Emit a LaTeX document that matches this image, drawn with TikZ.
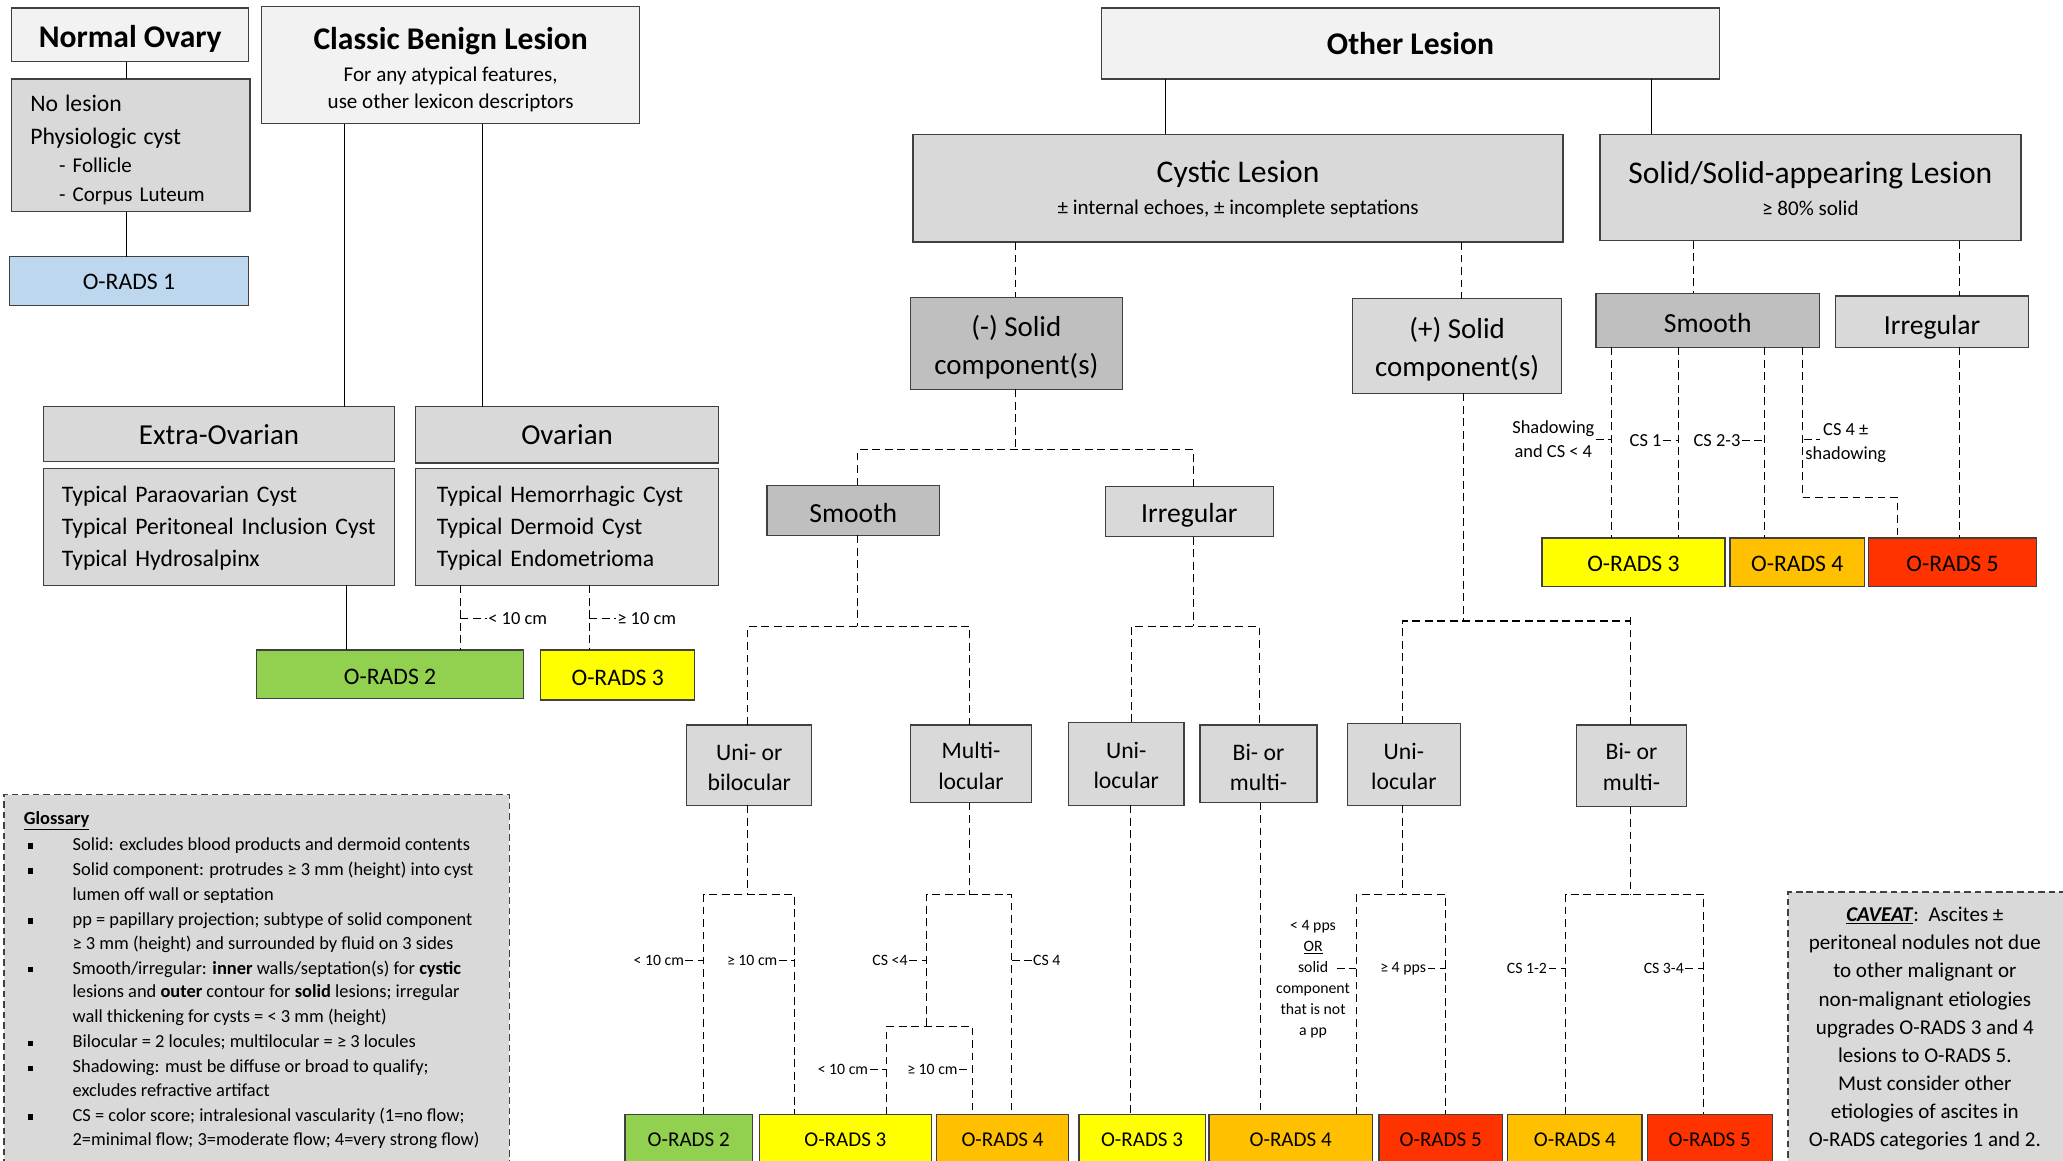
\documentclass[tikz,border=0pt]{standalone}
\usepackage{fontspec}
\setmainfont{Carlito}
\usetikzlibrary{calc}
\definecolor{bd}{HTML}{404040}
\definecolor{cA}{HTML}{F2F2F2}
\definecolor{cB}{HTML}{D9D9D9}
\definecolor{cC}{HTML}{BFBFBF}
\definecolor{cBlue}{HTML}{BDD7EE}
\definecolor{cGreen}{HTML}{92D050}
\definecolor{cYel}{HTML}{FFFF00}
\definecolor{cOra}{HTML}{FFC000}
\definecolor{cRed}{HTML}{FF3300}
% box: name, x1, y1, x2, y2, box style, text style, text
\newcommand\bx[8]{%
  \node[box,#6,minimum width={(#4)-(#2)},minimum height={(#5)-(#3)}] (#1)
    at ({((#2)+(#4))/2},{((#3)+(#5))/2}) {};
  \node[tx,#7] (#1t) at (#1.center) {#8};}
\newcommand\fs[2]{\fontsize{#1}{#2}\selectfont}
\newcommand\gbul{\makebox[34pt][l]{\rule[1.5pt]{4pt}{4pt}}}
\tikzset{
  box/.style={draw=bd, line width=1pt, inner sep=0pt, outer sep=0pt},
  tx/.style={inner sep=0pt, align=center},
  lt/.style={fill=cA}, md/.style={fill=cB}, dk/.style={fill=cC},
  gbx/.style={draw=bd, line width=0.9pt, dash pattern=on 5pt off 3pt, fill=cB},
  ln/.style={draw=black, line width=0.8pt},
  dsh/.style={draw=black, line width=0.8pt, dash pattern=on 6pt off 3.5pt},
  lbl/.style={font=\fs{14}{18}, inner sep=1pt, align=center},
  sml/.style={font=\fs{12}{16}, inner sep=1pt, align=center},
  gtxt/.style={font=\fs{14}{17}, inner sep=0pt, anchor=base west},
  t24b/.style={font=\fs{24}{29}\bfseries},
  t22/.style={font=\fs{22}{29}},
  t21/.style={font=\fs{21}{25}},
  t18/.style={font=\fs{18}{23}},
  t16/.style={font=\fs{16}{20}},
}
\begin{document}
\begin{tikzpicture}[x=1pt,y=-1pt]
\useasboundingbox (0,0) rectangle (1568,882);
% ---------- left: normal ovary ----------
\bx{normal}{9}{6}{189}{47}{lt}{t24b,yshift=-3pt}{Normal Ovary}
\bx{nolesion}{9}{60}{190}{161}{md}{text width=153pt,align=left,font=\fs{16}{22},yshift=-3.5pt}{{\fs{18}{22}No lesion}\\[3pt]{\fs{18}{22}Physiologic cyst}\\\hspace*{22pt}- Follicle\\\hspace*{22pt}- Corpus Luteum}
\bx{o1}{7}{195}{189}{232}{fill=cBlue}{t18,yshift=-1pt}{O-RADS 1}
\draw[ln] (normal.south -| 96,0) -- (nolesion.north -| 96,0);
\draw[ln] (nolesion.south -| 96,0) -- (o1.north -| 96,0);
% ---------- classic benign ----------
\bx{classic}{199}{5}{486}{94}{lt}{font=\fs{16}{21},yshift=-3.5pt}{{\fs{24}{29}\bfseries Classic Benign Lesion}\\[3pt]For any atypical features,\\use other lexicon descriptors}
\bx{extra}{33}{309}{300}{351}{md}{font=\fs{22}{26}}{Extra-Ovarian}
\bx{extralist}{33}{356}{300}{445}{md}{text width=239pt,align=left,font=\fs{18}{24},yshift=-1pt}{Typical Paraovarian Cyst\\Typical Peritoneal Inclusion Cyst\\Typical Hydrosalpinx}
\bx{ovarian}{316}{309}{546}{352}{md}{font=\fs{22}{26}}{Ovarian}
\bx{ovlist}{316}{356}{546}{445}{md}{text width=198pt,align=left,font=\fs{18}{24},yshift=-1pt}{Typical Hemorrhagic Cyst\\Typical Dermoid Cyst\\Typical Endometrioma}
\bx{o2a}{195}{494}{398}{531}{fill=cGreen}{t18,yshift=-2pt}{O-RADS 2}
\bx{o3a}{411}{494}{528}{532}{fill=cYel}{t18,yshift=-2pt}{O-RADS 3}
\draw[ln] (classic.south -| 262,0) -- (extra.north -| 262,0);
\draw[ln] (classic.south -| 367,0) -- (ovarian.north -| 367,0);
\draw[ln] (extralist.south -| 263,0) -- (o2a.north -| 263,0);
\draw[dsh] (ovlist.south -| 350,0) -- (o2a.north -| 350,0);
\draw[dsh] (ovlist.south -| 448,0) -- (o3a.north -| 448,0);
\node[lbl,anchor=west] (t1) at (370,470) {< 10 cm};
\draw[dsh] (t1.west -| 350,0) -- (t1.west);
\node[lbl,anchor=west] (t2) at (468,470) {≥ 10 cm};
\draw[dsh] (t2.west -| 448,0) -- (t2.west);
% ---------- other lesion ----------
\bx{other}{837}{6}{1307}{60}{lt}{t24b}{Other Lesion}
\bx{cystic}{694}{102}{1188}{184}{md}{font=\fs{16}{24},yshift=-1pt}{{\fs{24}{24}Cystic Lesion}\\± internal echoes, ± incomplete septations}
\bx{solidl}{1216}{102}{1536}{183}{md}{font=\fs{16}{24},yshift=-1pt}{{\fs{24}{24}Solid/Solid-appearing Lesion}\\≥ 80\% solid}
\draw[ln] (other.south -| 886,0) -- (cystic.north -| 886,0);
\draw[ln] (other.south -| 1255,0) -- (solidl.north -| 1255,0);
\bx{mneg}{692}{226}{853}{296}{dk}{t22,yshift=-3pt}{(-) Solid\\component(s)}
\bx{mpos}{1028}{227}{1187}{299}{md}{t22,yshift=-2.5pt}{(+) Solid\\component(s)}
\draw[dsh] (cystic.south -| 772,0) -- (mneg.north -| 772,0);
\draw[dsh] (cystic.south -| 1111,0) -- (mpos.north -| 1111,0);
% ---------- solid lesion branch ----------
\bx{smoothr}{1213}{223}{1383}{264}{dk}{t21,yshift=-2pt}{Smooth}
\bx{irrr}{1395}{225}{1542}{264}{md}{t21,yshift=-4pt}{Irregular}
\draw[dsh] (solidl.south -| 1287,0) -- (smoothr.north -| 1287,0);
\draw[dsh] (solidl.south -| 1489,0) -- (irrr.north -| 1489,0);
\bx{o3r}{1172}{409}{1311}{446}{fill=cYel}{t18,yshift=-1pt}{O-RADS 3}
\bx{o4r}{1315}{409}{1417}{446}{fill=cOra}{t18,yshift=-1pt}{O-RADS 4}
\bx{o5r}{1420}{409}{1548}{446}{fill=cRed}{t18,yshift=-1pt}{O-RADS 5}
\draw[dsh] (smoothr.south -| 1225,0) -- (o3r.north -| 1225,0);
\draw[dsh] (smoothr.south -| 1276,0) -- (o3r.north -| 1276,0);
\draw[dsh] (smoothr.south -| 1341,0) -- (o4r.north -| 1341,0);
\draw[dsh] (smoothr.south -| 1370,0) -- (1370,378) -| (o5r.north -| 1442,0);
\draw[dsh] (irrr.south -| 1489,0) -- (o5r.north -| 1489,0);
\node[lbl,anchor=east] (t3) at (1213,334) {Shadowing\\and CS < 4};
\draw[dsh] (t3.east) -- (t3.east -| 1225,0);
\node[lbl,anchor=east] (t4) at (1264,335) {CS 1};
\draw[dsh] (t4.east) -- (t4.east -| 1276,0);
\node[lbl,anchor=east] (t5) at (1324,335) {CS 2-3};
\draw[dsh] (t5.east) -- (t5.east -| 1341,0);
\node[lbl,anchor=west] (t6) at (1371,337) {CS 4 ±\\shadowing};
\draw[dsh] (t6.west |- 0,334) -- ++(12,0);
% ---------- (-) solid branch ----------
\bx{smoothm}{583}{369}{714}{407}{dk}{t21,yshift=-2pt}{Smooth}
\bx{irrm}{840}{370}{968}{408}{md}{t21,yshift=-3pt}{Irregular}
\draw[dsh] (mneg.south -| 772,0) -- (772,342);
\draw[dsh] (smoothm.north -| 652,0) |- (907,342) -- (irrm.north -| 907,0);
\bx{unibi}{522}{551}{617}{612}{md}{t18,yshift=-2pt}{Uni- or\\bilocular}
\bx{multi}{692}{551}{784}{610}{md}{t18,yshift=-1.5pt}{Multi-\\locular}
\bx{unim}{812}{549}{900}{612}{md}{t18,yshift=-1pt}{Uni-\\locular}
\bx{bim}{912}{551}{1001}{610}{md}{t18,yshift=-3pt}{Bi- or\\multi-}
\draw[dsh] (smoothm.south -| 652,0) -- (652,476);
\draw[dsh] (unibi.north -| 568,0) |- (737,476) -- (multi.north -| 737,0);
\draw[dsh] (irrm.south -| 907,0) -- (907,476);
\draw[dsh] (unim.north -| 860,0) |- (957,476) -- (bim.north -| 957,0);
% ---------- (+) solid branch ----------
\bx{unir}{1024}{550}{1110}{612}{md}{t18,yshift=-1.5pt}{Uni-\\locular}
\bx{bir}{1198}{551}{1282}{613}{md}{t18,yshift=-1pt}{Bi- or\\multi-}
\draw[dsh] (mpos.south -| 1112,0) -- (1112,472);
\draw[dsh] (unir.north -| 1066,0) |- (1239,472);
\draw[dsh] (bir.north -| 1239,0) -- (1239,467);
% ---------- bottom row ----------
\bx{b2}{475}{847}{572}{884}{fill=cGreen}{t16,yshift=-1pt}{O-RADS 2}
\bx{b3a}{577}{847}{708}{884}{fill=cYel}{t16,yshift=-1pt}{O-RADS 3}
\bx{b4a}{712}{847}{812}{884}{fill=cOra}{t16,yshift=-1pt}{O-RADS 4}
\bx{b3b}{820}{847}{916}{884}{fill=cYel}{t16,yshift=-1pt}{O-RADS 3}
\bx{b4b}{919}{847}{1043}{884}{fill=cOra}{t16,yshift=-1pt}{O-RADS 4}
\bx{b5a}{1048}{847}{1142}{884}{fill=cRed}{t16,yshift=-1pt}{O-RADS 5}
\bx{b4c}{1146}{847}{1248}{884}{fill=cOra}{t16,yshift=-1pt}{O-RADS 4}
\bx{b5b}{1252}{847}{1347}{884}{fill=cRed}{t16,yshift=-1pt}{O-RADS 5}
% uni-/bilocular
\draw[dsh] (unibi.south -| 568,0) -- (568,680);
\draw[dsh] (b2.north -| 535,0) |- (604,680) -- (b3a.north -| 604,0);
\node[sml,anchor=east] (t7) at (521,730) {< 10 cm};
\draw[dsh] (t7.east) -- (t7.east -| 535,0);
\node[sml,anchor=east] (t8) at (592,730) {≥ 10 cm};
\draw[dsh] (t8.east) -- (t8.east -| 604,0);
% multilocular
\draw[dsh] (multi.south -| 737,0) -- (737,680);
\draw[dsh] (704,780) |- (769,680) -- (b4a.north -| 769,0);
\draw[dsh] (b3a.north -| 674,0) |- (739,780) -- (b4a.north -| 739,0);
\node[sml,anchor=east] (t9) at (691,730) {CS <4};
\draw[dsh] (t9.east) -- (t9.east -| 704,0);
\node[sml,anchor=west] (t10) at (784,730) {CS 4};
\draw[dsh] (t10.west -| 769,0) -- (t10.west);
\node[sml,anchor=east] (t11) at (661,813) {< 10 cm};
\draw[dsh] (t11.east) -- (t11.east -| 674,0);
\node[sml,anchor=east] (t12) at (729,813) {≥ 10 cm};
\draw[dsh] (t12.east) -- (t12.east -| 739,0);
% irregular unilocular / multi
\draw[dsh] (unim.south -| 859,0) -- (b3b.north -| 859,0);
\draw[dsh] (bim.south -| 958,0) -- (b4b.north -| 958,0);
% (+) unilocular
\draw[dsh] (unir.south -| 1066,0) -- (1066,680);
\draw[dsh] (b4b.north -| 1031,0) |- (1099,680) -- (b5a.north -| 1099,0);
\node[sml] (t13) at (998,744) {< 4 pps\\\underline{OR}\\solid\\component\\that is not\\a pp};
\coordinate (s13) at (1016,736);
\draw[dsh] (s13) -- (s13 -| 1031,0);
\node[sml,anchor=east] (t14) at (1085,736) {≥ 4 pps};
\draw[dsh] (t14.east) -- (t14.east -| 1099,0);
% (+) bi/multi
\draw[dsh] (bir.south -| 1239,0) -- (1239,680);
\draw[dsh] (b4c.north -| 1190,0) |- (1295,680) -- (b5b.north -| 1295,0);
\node[sml,anchor=east] (t15) at (1177,736) {CS 1-2};
\draw[dsh] (t15.east) -- (t15.east -| 1190,0);
\node[sml,anchor=east] (t16) at (1281,736) {CS 3-4};
\draw[dsh] (t16.east) -- (t16.east -| 1295,0);
% ---------- glossary ----------
\node[gbx,minimum width=384pt,minimum height=291pt,inner sep=0pt,outer sep=0pt] (gloss) at (195,749.5) {};
\node[gtxt] (g0) at (18,627) {\textbf{\underline{Glossary}}};
\node[gtxt] (g1) at (21,646.5) {\gbul Solid: excludes blood products and dermoid contents};
\node[gtxt] (g2) at (21,665.5) {\gbul Solid component: protrudes ≥ 3 mm (height) into cyst};
\node[gtxt] (g3) at (55,684.5) {lumen off wall or septation};
\node[gtxt] (g4) at (21,703.5) {\gbul pp = papillary projection; subtype of solid component};
\node[gtxt] (g5) at (55,721.5) {≥ 3 mm (height) and surrounded by fluid on 3 sides};
\node[gtxt] (g6) at (21,740.5) {\gbul Smooth/irregular: \textbf{inner} walls/septation(s) for \textbf{cystic}};
\node[gtxt] (g7) at (55,758.5) {lesions and \textbf{outer} contour for \textbf{solid} lesions; irregular};
\node[gtxt] (g8) at (55,777.5) {wall thickening for cysts = < 3 mm (height)};
\node[gtxt] (g9) at (21,796.5) {\gbul Bilocular = 2 locules; multilocular = ≥ 3 locules};
\node[gtxt] (g10) at (21,815.5) {\gbul Shadowing: must be diffuse or broad to qualify;};
\node[gtxt] (g11) at (55,833.5) {excludes refractive artifact};
\node[gtxt] (g12) at (21,852.5) {\gbul CS = color score; intralesional vascularity (1=no flow;};
\node[gtxt] (g13) at (55,870.5) {2=minimal flow; 3=moderate flow; 4=very strong flow)};
% ---------- caveat ----------
\node[gbx,minimum width=221pt,minimum height=217pt,inner sep=0pt,outer sep=0pt] (cav) at (1469.5,786.5) {};
\node[font=\fs{16}{21.4},align=center,inner sep=0pt] (cavt) at (1463,782) {\underline{\textbf{\textit{CAVEAT}}}:\ \ Ascites ±\\peritoneal nodules not due\\to other malignant or\\non-malignant etiologies\\upgrades O-RADS 3 and 4\\lesions to O-RADS 5.\\Must consider other\\etiologies of ascites in\\O-RADS categories 1 and 2.};
\end{tikzpicture}
\end{document}
